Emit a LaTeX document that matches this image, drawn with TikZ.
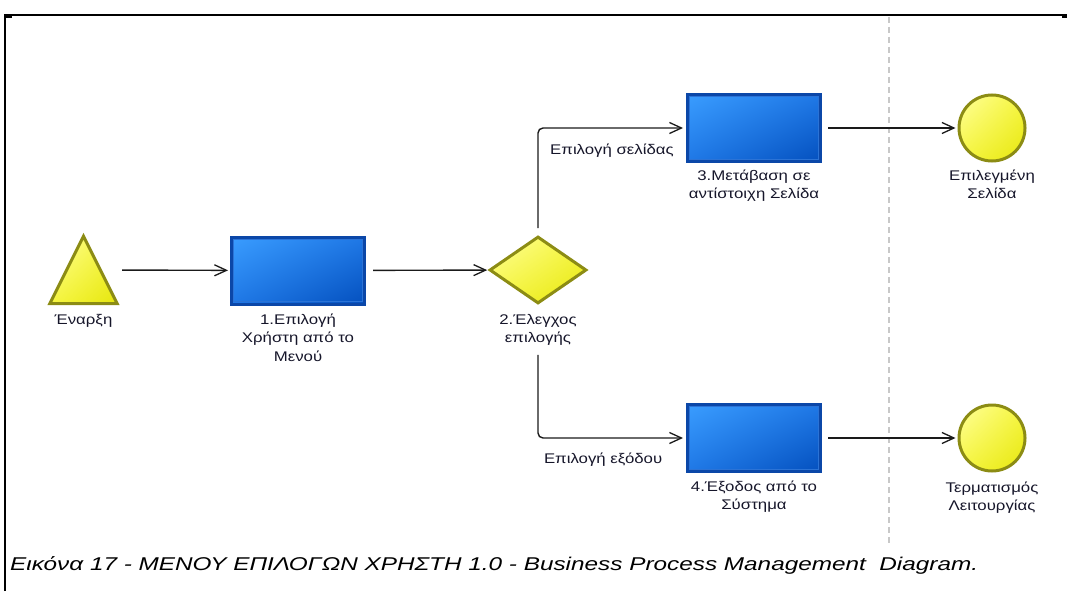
\documentclass[tikz,border=0pt]{standalone}
\usepackage{fontspec}
\setmainfont{Liberation Sans}
\newfontfamily\lblfam[FakeStretch=1.2]{Liberation Sans}
\usetikzlibrary{arrows.meta,shapes.geometric,shadings}

\definecolor{boxedge}{HTML}{0B47A8}
\definecolor{boxring}{HTML}{2B73D6}
\definecolor{boxlight}{HTML}{3A9DFF}
\definecolor{boxmid}{HTML}{1F78E6}
\definecolor{boxdark}{HTML}{0450BE}
\definecolor{yedge}{HTML}{8C8C14}
\definecolor{ylight}{HTML}{FFFF9C}
\definecolor{ymid}{HTML}{F6F640}
\definecolor{ydark}{HTML}{E6E60E}
\definecolor{txt}{HTML}{16162A}
\definecolor{flowline}{HTML}{1A1A1A}
\definecolor{captxt}{HTML}{44546A}
\definecolor{lane}{HTML}{C8C8C8}

\newcommand\lbstrut{\rule{0pt}{13pt}}
\newsavebox\capbox

\begin{document}
\sbox\capbox{\fontsize{18.5}{21}\selectfont\itshape Εικόνα 17 - ΜΕΝΟΥ ΕΠΙΛΟΓΩΝ ΧΡΗΣΤΗ 1.0 - Business Process Management~ Diagram.}
\pgfmathsetmacro\capsx{968/\the\wd\capbox}
\begin{tikzpicture}[x=1pt,y=-1pt,
  flow/.style={draw=flowline, line width=1.4pt,
    -{Straight Barb[length=12pt,width=11pt,line width=1.3pt]}},
  ygrad/.style={upper left=ylight, upper right=ymid, lower left=ymid, lower right=ydark},
  task/.style={rectangle, draw=boxedge, line width=3pt, minimum width=133pt,
    minimum height=67pt, inner sep=0pt,
    upper left=boxlight, upper right=boxmid, lower left=boxmid, lower right=boxdark,
    path picture={\draw[boxring, line width=1.2pt]
      ([shift={(2.2pt,-2.2pt)}]path picture bounding box.north west) rectangle
      ([shift={(-2.2pt,2.2pt)}]path picture bounding box.south east);}},
  event/.style={circle, draw=yedge, line width=3pt, minimum size=66pt,
    inner sep=0pt, ygrad},
  gateway/.style={diamond, draw=yedge, line width=3pt, minimum width=97pt,
    minimum height=67pt, inner sep=0pt, ygrad},
  lbl/.style={anchor=north, inner sep=0pt, align=center, text=txt,
    font=\lblfam\fontsize{14}{18.5}\selectfont},
]
\useasboundingbox (0,0) rectangle (1067,591);

% page frame
\draw[line width=2pt] (5,591) -- (5,15) -- (1067,15);
\fill (4,14) rectangle (12,18);
\fill (1062,14) rectangle (1067,18);

% lane separator
\draw[lane, line width=1.2pt, dash pattern=on 6pt off 4pt] (889,17) -- (889,545);

% start event (triangle)
\node[minimum width=67pt, minimum height=67pt, inner sep=0pt] (start) at (83.5,270) {};
\path[draw=yedge, line width=3pt, ygrad] (start.north) -- (start.south east)
  -- (start.south west) -- cycle;

% tasks, gateway and end events
\node[task] (t1) at (298,270.5) {};
\node[gateway] (g) at (538,270) {};
\node[task] (t3) at (754,128) {};
\node[task] (t4) at (754,438) {};
\node[event] (e1) at (992,128) {};
\node[event] (e2) at (992,438) {};

% labels under the shapes
\node[lbl] (startlbl) at (83.5,311) {\lbstrut Έναρξη};
\node[lbl] (t1lbl) at (298,311) {\lbstrut 1.Επιλογή\\Χρήστη από το\\Μενού};
\node[lbl] (glbl) at (538,311) {\lbstrut 2.Έλεγχος\\επιλογής};
\node[lbl] (t3lbl) at (754,167) {\lbstrut 3.Μετάβαση σε\\αντίστοιχη Σελίδα};
\node[lbl] (e1lbl) at (992,167) {\lbstrut Επιλεγμένη\\Σελίδα};
\node[lbl] (t4lbl) at (754,478) {\lbstrut 4.Έξοδος από το\\Σύστημα};
\node[lbl] (e2lbl) at (992,479) {\lbstrut Τερματισμός\\Λειτουργίας};

% sequence flows
\draw[flow, shorten <=5pt, shorten >=2pt] (start) -- (t1);
\draw[flow, shorten <=7pt, shorten >=1pt] (t1) -- (g);
\draw[flow, rounded corners=5pt, shorten <=7pt, shorten >=3pt] (g.north) |- (t3)
  node[lbl, pos=0.75, yshift=-13pt] (selLbl) {\lbstrut Επιλογή σελίδας};
\draw[flow, rounded corners=5pt, shorten <=9pt, shorten >=3pt] (glbl.south) |- (t4)
  node[lbl, pos=0.72, yshift=-12pt] (exitLbl) {\lbstrut Επιλογή εξόδου};
\draw[flow, shorten <=6pt, shorten >=2pt] (t3) -- (e1);
\draw[flow, shorten <=6pt, shorten >=2pt] (t4) -- (e2);

% caption
\node[anchor=base west, inner sep=0pt, text=captxt] (caption) at (10,570)
  {\scalebox{\capsx}[1]{\usebox\capbox}};
\end{tikzpicture}
\end{document}
